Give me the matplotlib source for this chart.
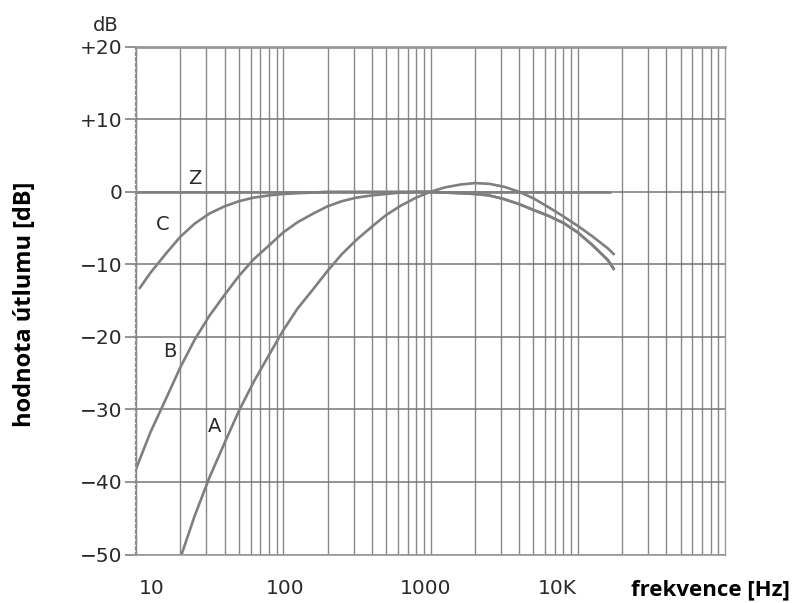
import matplotlib
matplotlib.use("Agg")
import matplotlib.pyplot as plt
import matplotlib.transforms as mtransforms
from matplotlib.ticker import LogLocator, NullFormatter

# Weighting curves (frequency in Hz, attenuation in dB)
freq_a = [20, 25, 31.5, 40, 50, 63, 80, 100, 125, 160, 200, 250, 315, 400, 500,
          630, 800, 1000, 1250, 1600, 2000, 2500, 3150, 4000, 5000, 6300, 8000,
          10000, 12500, 16000, 17800]
gain_a = [-50.5, -44.7, -39.4, -34.6, -30.2, -26.2, -22.5, -19.1, -16.1, -13.4,
          -10.9, -8.6, -6.6, -4.8, -3.2, -1.9, -0.8, 0.0, 0.6, 1.0, 1.2, 1.1,
          0.7, 0.0, -0.9, -2.1, -3.4, -4.7, -6.1, -7.8, -8.7]

freq_b = [10, 12.5, 16, 20, 25, 31.5, 40, 50, 63, 80, 100, 125, 160, 200, 250,
          315, 400, 500, 630, 800, 1000, 1250, 1600, 2000, 2500, 3150, 4000,
          5000, 6300, 8000, 10000, 12500, 16000, 17700]
gain_b = [-38.2, -33.2, -28.5, -24.2, -20.4, -17.1, -14.2, -11.6, -9.3, -7.4,
          -5.6, -4.2, -3.0, -2.0, -1.3, -0.8, -0.5, -0.3, -0.1, 0.0, 0.0, -0.1,
          -0.2, -0.3, -0.5, -1.0, -1.7, -2.5, -3.3, -4.3, -5.6, -7.3, -9.4, -10.7]

freq_c = [10.5, 12.5, 16, 20, 25, 31.5, 40, 50, 63, 80, 100, 125, 160, 200, 250,
          315, 400, 500, 630, 800, 1000, 1250, 1600, 2000, 2500, 3150, 4000,
          5000, 6300, 8000, 10000, 12500, 16000, 17700]
gain_c = [-13.4, -11.2, -8.5, -6.2, -4.4, -3.0, -2.0, -1.3, -0.8, -0.5, -0.3,
          -0.2, -0.1, 0.0, 0.0, 0.0, 0.0, 0.0, 0.0, 0.0, 0.0, -0.1, -0.2, -0.3,
          -0.5, -1.0, -1.7, -2.5, -3.3, -4.3, -5.6, -7.3, -9.4, -10.8]

freq_z = [10, 16800]
gain_z = [0, 0]

curve_names = ["A", "B", "C", "Z"]
name_freq = [34.3, 17.0, 15.2, 25.2]
name_gain = [-32.3, -22.0, -4.5, 1.9]

ytick_vals = [20, 10, 0, -10, -20, -30, -40, -50]
ytick_labels = ["+20", "+10", "0", "\u221210", "\u221220", "\u221230", "\u221240", "\u221250"]
xtick_vals = [10, 100, 1000, 10000]
xtick_labels = ["10", "100", "1000", "10K"]
xtick_shift_px = [16, 2, -5, -20]

W, H = 794, 603
CURVE = "#7f7f7f"
GRID = "#888888"
TEXT = "#2a2a2a"
LABEL_FONT = ["Open Sans", "DejaVu Sans"]

fig = plt.figure(figsize=(W / 100, H / 100), dpi=100)
ax = fig.add_axes([136 / W, 1 - 554.5 / H, 589 / W, 507.8 / H])
ax.set_xscale("log")
ax.set_xlim(10, 1e5)
ax.set_ylim(-50, 20)
ax.set_axisbelow(True)

# log grid: decades plus 2..9 subdivisions
ax.set_xticks(xtick_vals)
ax.set_xticklabels([])
ax.xaxis.set_minor_locator(LogLocator(base=10, subs=range(2, 10)))
ax.xaxis.set_minor_formatter(NullFormatter())
ax.grid(True, which="both", axis="x", color=GRID, lw=1.0)
ax.grid(True, which="major", axis="y", color="#777777", lw=1.1)
ax.tick_params(axis="x", which="both", length=0)

ax.set_yticks(ytick_vals)
ax.set_yticklabels(ytick_labels)
ax.tick_params(axis="y", which="major", length=8, width=1.1, color="#777777",
               pad=2, labelsize=14.5, labelcolor=TEXT)

for s in ["top", "right", "bottom"]:
    ax.spines[s].set_color("#999999")
ax.spines["top"].set_linewidth(2.0)
ax.spines["right"].set_linewidth(1.0)
ax.spines["bottom"].set_linewidth(1.2)
ax.spines["left"].set_color("#8a8a8a")
ax.spines["left"].set_linestyle((0, (1, 1.5)))
ax.spines["left"].set_linewidth(1.6)

# frequency labels under the plot
for f, lab, dx in zip(xtick_vals, xtick_labels, xtick_shift_px):
    tr = ax.get_xaxis_transform() + mtransforms.ScaledTranslation(
        dx / 100, -34.5 / 100, fig.dpi_scale_trans)
    ax.text(f, 0, lab, transform=tr, ha="center", va="center",
            fontsize=14.5, color=TEXT, clip_on=False)

for fx, gy in [(freq_a, gain_a), (freq_b, gain_b), (freq_c, gain_c), (freq_z, gain_z)]:
    ax.plot(fx, gy, color=CURVE, lw=1.9, solid_capstyle="butt",
            solid_joinstyle="round")

for name, fx, gy in zip(curve_names, name_freq, name_gain):
    ax.text(fx, gy, name, ha="center", va="center", fontsize=14, color=TEXT)

ax.text(-0.051, 1.041, "dB", transform=ax.transAxes, ha="center", va="center",
        fontsize=14, color=TEXT)

fig.text(25 / W, 1 - 304 / H, "hodnota útlumu [dB]", rotation=90,
         ha="center", va="center", fontsize=17, fontweight="bold",
         family=LABEL_FONT, color="black")
fig.text(710 / W, 1 - 590 / H, "frekvence [Hz]", ha="center", va="center",
         fontsize=16, fontweight="bold", family=LABEL_FONT, color="black")

fig.savefig("out.png", dpi=100)
